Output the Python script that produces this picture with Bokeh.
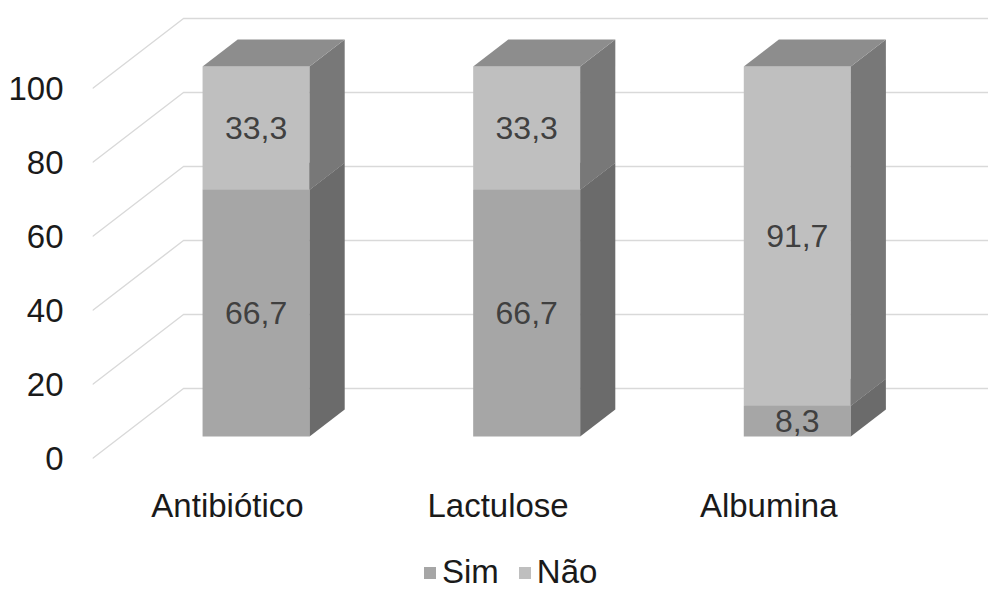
from bokeh.plotting import figure
from bokeh.models import ColumnDataSource, FixedTicker, Range1d, Legend, LegendItem
from bokeh.core.properties import value
from bokeh.embed import file_html
from bokeh.resources import INLINE

# ---- data ----
categories = ["Antibiótico", "Lactulose", "Albumina"]
sim = [66.7, 66.7, 8.3]
nao = [33.3, 33.3, 91.7]
sim_labels = ["66,7", "66,7", "8,3"]
nao_labels = ["33,3", "33,3", "91,7"]
y_ticks = [0, 20, 40, 60, 80, 100]
series_names = ["Sim", "Não"]

# ---- layout / projection constants (pixels) ----
W, H = 988, 591
FRAME_L = 92
ZERO_PX = 458          # pixel row of value 0 on the front plane
PX_PER_CAT = 270.6
CAT0_PX = 227
PX_PER_VAL = 3.7
WALL_DX_PX, WALL_DY_PX = 91, 70
Z_FRONT, Z_BACK = 0.314, 0.70
BAR_W_PX = 107
FONT = "Liberation Sans"
FS = "33px"
FS_LAB = "32px"

x_start = (FRAME_L - CAT0_PX) / PX_PER_CAT
x_end = (W - CAT0_PX) / PX_PER_CAT
y_start = -(H - ZERO_PX) / PX_PER_VAL
y_end = ZERO_PX / PX_PER_VAL
DX = WALL_DX_PX / PX_PER_CAT
DY = WALL_DY_PX / PX_PER_VAL
HW = BAR_W_PX / 2 / PX_PER_CAT


def proj(x, y, z):
    return x + z * DX, y + z * DY


def faces(i, b, t):
    x0, x1 = i - HW, i + HW
    def poly(pts):
        P = [proj(*p) for p in pts]
        return [p[0] for p in P], [p[1] for p in P]
    front = poly([(x0, b, Z_FRONT), (x1, b, Z_FRONT), (x1, t, Z_FRONT), (x0, t, Z_FRONT)])
    side = poly([(x1, b, Z_FRONT), (x1, b, Z_BACK), (x1, t, Z_BACK), (x1, t, Z_FRONT)])
    top = poly([(x0, t, Z_FRONT), (x1, t, Z_FRONT), (x1, t, Z_BACK), (x0, t, Z_BACK)])
    return front, side, top


p = figure(width=W, height=H, x_range=Range1d(x_start, x_end), y_range=Range1d(y_start, y_end),
           min_border_left=FRAME_L, min_border_right=0, min_border_top=0,
           min_border_bottom=0, output_backend="svg", toolbar_location=None)
p.outline_line_color = None
p.grid.visible = False

# 3D back-wall gridlines
gx, gy = [], []
for v in y_ticks:
    bx, by = proj(x_start, v, 1.0)
    gx.append([x_start, bx, x_end])
    gy.append([v, by, by])
p.multi_line(gx, gy, line_color="#d9d9d9", line_width=1.4)

styles = {
    "Sim": ("#a6a6a6", "#6b6b6b", "#8a8a8a"),
    "Não": ("#bfbfbf", "#787878", "#8d8d8d"),
}
front_renderers = {}
for name, bottoms, tops in [
    ("Sim", [0.0] * 3, sim),
    ("Não", sim, [s + n for s, n in zip(sim, nao)]),
]:
    F, S, T = {"xs": [], "ys": []}, {"xs": [], "ys": []}, {"xs": [], "ys": []}
    for i in range(len(categories)):
        f, s, t = faces(i, bottoms[i], tops[i])
        for d, fc in ((F, f), (S, s), (T, t)):
            d["xs"].append(fc[0])
            d["ys"].append(fc[1])
    fcol, scol, tcol = styles[name]
    front_renderers[name] = p.patches("xs", "ys", source=ColumnDataSource(F), fill_color=fcol, line_color=None)
    p.patches("xs", "ys", source=ColumnDataSource(S), fill_color=scol, line_color=None)
    p.patches("xs", "ys", source=ColumnDataSource(T), fill_color=tcol, line_color=None)

# data labels
lx, ly, lt = [], [], []
for i in range(len(categories)):
    for b, h, lab in ((0.0, sim[i], sim_labels[i]), (sim[i], nao[i], nao_labels[i])):
        x, y = proj(i, b + h / 2, Z_FRONT)
        lx.append(x); ly.append(y); lt.append(lab)
p.text(x=lx, y=ly, text=lt, text_align="center", text_baseline="middle",
       text_font=value(FONT), text_font_size=FS_LAB, text_color="#404040")

# axes
p.yaxis.ticker = FixedTicker(ticks=y_ticks)
p.yaxis.axis_line_color = None
p.yaxis.major_tick_line_color = None
p.yaxis.minor_tick_line_color = None
p.yaxis.major_tick_out = 0
p.yaxis.major_label_standoff = 29
p.yaxis.major_label_text_font = FONT
p.yaxis.major_label_text_font_size = FS
p.yaxis.major_label_text_color = "#1a1a1a"

p.xaxis.ticker = FixedTicker(ticks=list(range(len(categories))))
p.xaxis.major_label_overrides = {i: c for i, c in enumerate(categories)}
p.xaxis.fixed_location = 0
p.xaxis.axis_line_color = None
p.xaxis.major_tick_line_color = None
p.xaxis.minor_tick_line_color = None
p.xaxis.major_tick_out = 0
p.xaxis.major_label_standoff = 28
p.xaxis.major_label_text_font = FONT
p.xaxis.major_label_text_font_size = FS
p.xaxis.major_label_text_color = "#1a1a1a"

legend = Legend(items=[LegendItem(label=n, renderers=[front_renderers[n]]) for n in series_names],
                orientation="horizontal", location=(422 - FRAME_L, 0),
                glyph_width=15, glyph_height=15, label_standoff=5, spacing=18,
                padding=0, margin=0, border_line_color=None, background_fill_alpha=0,
                label_text_font=FONT, label_text_font_size=FS, label_text_color="#1a1a1a")
p.add_layout(legend, "center")

open("out.html", "w").write(file_html(p, INLINE))
